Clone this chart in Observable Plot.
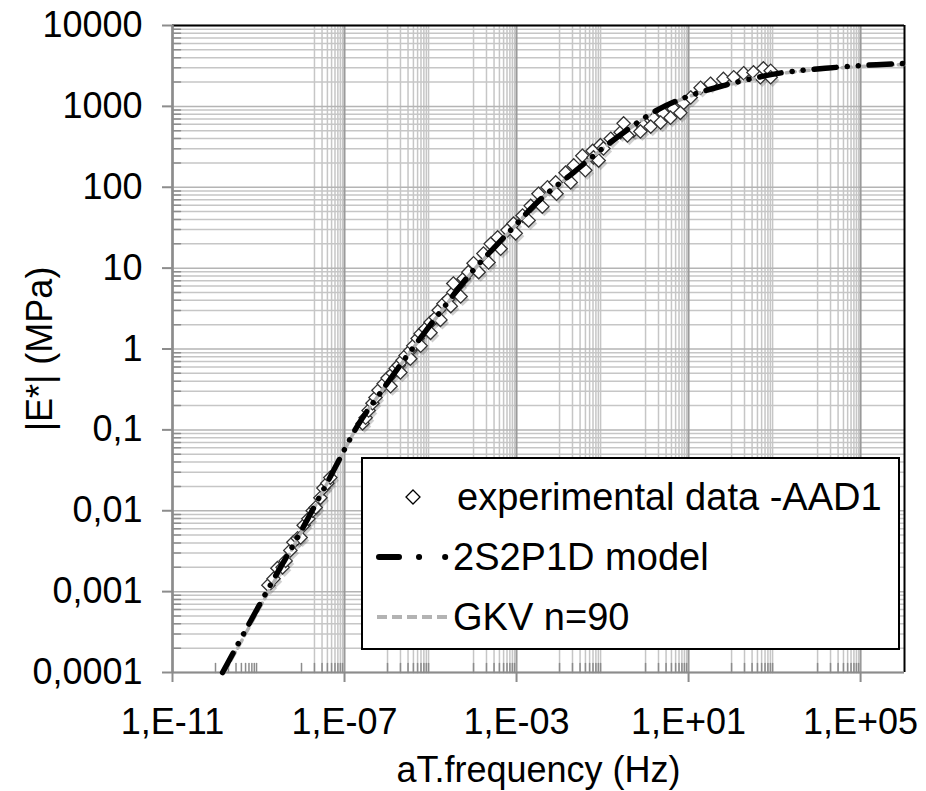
<!DOCTYPE html>
<html>
<head>
<meta charset="utf-8">
<script src="https://cdn.jsdelivr.net/npm/d3@7"></script>
<script src="https://cdn.jsdelivr.net/npm/@observablehq/plot@0.6"></script>
<style>
  html, body { margin: 0; padding: 0; background: #fff; }
  #wrap { position: relative; width: 926px; height: 791px; font-family: "Liberation Sans", Arial, sans-serif; }
</style>
</head>
<body>
<div id="wrap"></div>
<script>
// ---------- axis ticks ----------
const xTicks = [1e-11, 1e-7, 1e-3, 1e1, 1e5];
const xTickLabels = ["1,E-11", "1,E-07", "1,E-03", "1,E+01", "1,E+05"];
const yTicks = [1e-4, 1e-3, 1e-2, 1e-1, 1, 10, 100, 1000, 10000];
const yTickLabels = ["0,0001", "0,001", "0,01", "0,1", "1", "10", "100", "1000", "10000"];
const xDomain = [1e-11, 1.05e6];
const yDomain = [1e-4, 1e4];
const xLabel = "aT.frequency (Hz)";
const yLabel = "|E*| (MPa)";

// decades that carry minor x gridlines / minor x ticks (Excel quirk of the source)
const xGridDecades = [-8, -6, -4, -2, 0, 2, 4];
const xMinorTickDecades = [-10, -8, -6, -4, -2, 0, 2, 4];
const yMinorDecades = [-4, -3, -2, -1, 0, 1, 2, 3];

// ---------- series ----------
const seriesNames = ["experimental data -AAD1", "2S2P1D model", "GKV n=90"];

const expLogFreq = [
  -8.77,-8.65,-8.56,-8.44,-8.37,-8.26,-8.19,-8.09,-8.02,-7.95,-7.84,-7.74,-7.67,-7.56,-7.49,-7.40,-7.33,
  -6.58,-6.51,-6.44,-6.35,-6.28,-6.21,-6.09,-6.00,-5.88,-5.81,-5.74,-5.65,-5.58,-5.47,-5.40,-5.30,-5.23,-5.12,-5.00,-4.88,-4.81,-4.70,-4.58,-4.47,-4.35,-4.23,-4.12,
  -4.47,-4.00,-3.77,-3.60,-3.44,-3.21,-3.07,-2.86,-2.67,-2.49,-2.28,-2.09,-1.86,-1.67,-1.47,-1.23,-1.05,
  -1.21,-0.98,-0.81,-0.58,-0.51,-0.28,-0.05,0.19,0.42,0.65,0.88,1.05,1.28,1.51,1.81,2.05,2.28,2.51,2.67,2.74,2.91,2.91,
  -0.42,-0.12,0.12,0.35,0.58,0.81,
  -5.93,-5.70,-5.47,-5.23,-5.00,-4.77,-4.53,-4.30,-3.88,-3.65,-3.37,-3.02,-2.72,-2.40,-2.07,-1.74,-1.40,-1.09
];
const expLogE = [
  -2.92,-2.84,-2.71,-2.70,-2.62,-2.49,-2.39,-2.34,-2.33,-2.18,-2.10,-2.00,-1.96,-1.84,-1.72,-1.66,-1.59,
  -0.92,-0.85,-0.76,-0.67,-0.60,-0.51,-0.43,-0.36,-0.30,-0.24,-0.20,-0.14,-0.08,-0.02,0.04,0.13,0.19,0.25,0.33,0.39,0.48,0.56,0.62,0.70,0.79,0.87,0.95,
  0.81,1.06,1.18,1.30,1.38,1.47,1.55,1.65,1.77,1.92,2.00,2.06,2.18,2.27,2.39,2.45,2.52,
  2.37,2.48,2.60,2.68,2.79,2.70,2.76,2.85,2.91,2.97,3.04,3.11,3.23,3.28,3.34,3.36,3.41,3.42,3.36,3.47,3.44,3.36,
  2.64,2.69,2.75,2.80,2.86,2.92,
  -0.46,-0.29,-0.12,0.04,0.20,0.36,0.53,0.65,0.95,1.07,1.24,1.43,1.59,1.76,1.92,2.06,2.21,2.33
];

// 2S2P1D model curve
const modelFreq = [1.46e-10, 1.7e-9, 8.5e-9, 4.7e-8, 2.1e-7, 6.9e-7, 4.0e-6, 2.5e-5, 8.5e-5, 6.2e-4, 3.6e-3, 0.021, 0.15, 1.8, 11, 65, 400, 1600, 1.05e5, 1.05e6];
const modelE    = [1e-4, 1.09e-3, 4.9e-3, 0.0265, 0.117, 0.29, 1.05, 3.76, 8.6, 26.8, 71, 152, 357, 890, 1360, 1810, 2280, 2620, 3200, 3390];

// GKV n=90 curve
const gkvFreq = [1.6e-10, 1.8e-9, 8.7e-9, 4.7e-8, 2.1e-7, 6.9e-7, 4.0e-6, 2.5e-5, 8.5e-5, 6.2e-4, 3.6e-3, 0.021, 0.15, 1.8, 11, 65, 400, 1600, 1.05e5, 1.05e6];
const gkvE    = [1e-4, 1.05e-3, 4.8e-3, 0.026, 0.115, 0.29, 1.04, 3.7, 8.5, 26.5, 70, 150, 352, 880, 1340, 1780, 2240, 2580, 3120, 3300];

// ---------- build tables ----------
const expData = expLogFreq.map((lf, i) => ({f: 10 ** lf, e: 10 ** expLogE[i]}));
const modelData = modelFreq.map((f, i) => ({f, e: modelE[i]}));
const gkvData = gkvFreq.map((f, i) => ({f, e: gkvE[i]}));

const ks = [1, 2, 3, 4, 5, 6, 7, 8, 9];
const xMinorGrid = xGridDecades.flatMap(d => ks.filter(k => !(d === -8 && k === 1)).map(k => k * 10 ** d));
const xMinorTicks = xMinorTickDecades.flatMap(d => ks.map(k => k * 10 ** d));
const yMinor = yMinorDecades.flatMap(d => ks.slice(1).map(k => k * 10 ** d));

const tickShape = {draw(c, l) { c.moveTo(0, 0); c.lineTo(0, -l); }};
const font = "'Liberation Sans', Arial, sans-serif";

const chart = Plot.plot({
  width: 926,
  height: 791,
  marginLeft: 172,
  marginRight: 22,
  marginTop: 25,
  marginBottom: 119,
  style: {fontFamily: font, fontSize: "36px", background: "white", color: "black"},
  x: {type: "log", domain: xDomain},
  y: {type: "log", domain: yDomain},
  marks: [
    // grid
    Plot.ruleY(yMinor, {stroke: "#c6c6c6", strokeWidth: 1.5}),
    Plot.ruleX(xMinorGrid, {stroke: "#c6c6c6", strokeWidth: 1.5}),
    Plot.ruleY(yTicks, {stroke: "#b4b4b4", strokeWidth: 1.5}),
    Plot.ruleX(xTicks, {stroke: "#9a9a9a", strokeWidth: 2}),
    // minor ticks (inside)
    Plot.vector(xMinorTicks, {x: d => d, frameAnchor: "bottom", length: 9, rotate: 0, anchor: "start", shape: tickShape, stroke: "#8c8c8c", strokeWidth: 1.5}),
    Plot.vector(yMinor, {y: d => d, frameAnchor: "left", length: 8, rotate: 90, anchor: "start", shape: tickShape, stroke: "#8c8c8c", strokeWidth: 1.5}),
    // frame
    Plot.ruleY([yDomain[1]], {stroke: "black", strokeWidth: 2}),
    Plot.ruleX([xDomain[1]], {stroke: "black", strokeWidth: 2}),
    Plot.ruleY([yDomain[0]], {stroke: "#8c8c8c", strokeWidth: 2}),
    Plot.ruleX([xDomain[0]], {stroke: "#8c8c8c", strokeWidth: 2.5}),
    // axes
    Plot.axisX({ticks: xTicks, tickFormat: d => xTickLabels[xTicks.indexOf(d)], tickSize: 10, tickPadding: 26, stroke: "#8c8c8c", strokeWidth: 2, fill: "black", fontSize: 36, label: null}),
    Plot.axisY({ticks: yTicks, tickFormat: d => yTickLabels[yTicks.indexOf(d)], tickSize: 10, tickPadding: 20, stroke: "#8c8c8c", strokeWidth: 2, fill: "black", fontSize: 36, label: null}),
    // data
    Plot.dot(expData, {x: "f", y: "e", symbol: "diamond2", r: 6, fill: "#606060", fillOpacity: 0.3, dx: 2, dy: 3}),
    Plot.dot(expData, {x: "f", y: "e", symbol: "diamond2", r: 6, fill: "white", stroke: "#333", strokeWidth: 1.3}),
    Plot.line(gkvData, {x: "f", y: "e", stroke: "#b3b3b3", strokeWidth: 3.5, strokeDasharray: "9,5", curve: "catmull-rom"}),
    Plot.line(modelData, {x: "f", y: "e", stroke: "black", strokeWidth: 5.5, strokeDasharray: "22,11,0.1,11,0.1,11", strokeLinecap: "round", curve: "catmull-rom"}),
    // titles
    Plot.text([yLabel], {frameAnchor: "left", dx: -132, rotate: -90, fontSize: 36, lineAnchor: "middle", textAnchor: "middle", fill: "black"}),
    Plot.text([xLabel], {frameAnchor: "bottom", dy: 98, fontSize: 36, lineAnchor: "middle", textAnchor: "middle", fill: "black"})
  ]
});

const wrap = document.getElementById("wrap");
wrap.appendChild(chart);

// ---------- legend ----------
const ns = "http://www.w3.org/2000/svg";
const lg = document.createElementNS(ns, "svg");
lg.setAttribute("width", 540);
lg.setAttribute("height", 194);
lg.style.position = "absolute";
lg.style.left = "361px";
lg.style.top = "457px";
function el(tag, attrs) { const e = document.createElementNS(ns, tag); for (const k in attrs) e.setAttribute(k, attrs[k]); lg.appendChild(e); return e; }
el("rect", {x: 1, y: 1, width: 537, height: 191, fill: "white", stroke: "black", "stroke-width": 2});
el("path", {d: "M52,33 L59,40 L52,47 L45,40 Z", fill: "white", stroke: "black", "stroke-width": 1.3});
el("path", {d: "M18,100 L90,100", stroke: "black", "stroke-width": 6, "stroke-linecap": "round", "stroke-dasharray": "20,20,0.1,26,0.1,60"});
el("path", {d: "M16,160 L90,160", stroke: "#b3b3b3", "stroke-width": 4, "stroke-dasharray": "10,5"});
const ys = [40, 100, 160];
seriesNames.forEach((name, i) => {
  const t = el("text", {x: i === 0 ? 96 : 92, y: ys[i], "dominant-baseline": "central", "font-size": 38, "font-family": font, fill: "black"});
  t.textContent = name;
});
wrap.appendChild(lg);
</script>
</body>
</html>
